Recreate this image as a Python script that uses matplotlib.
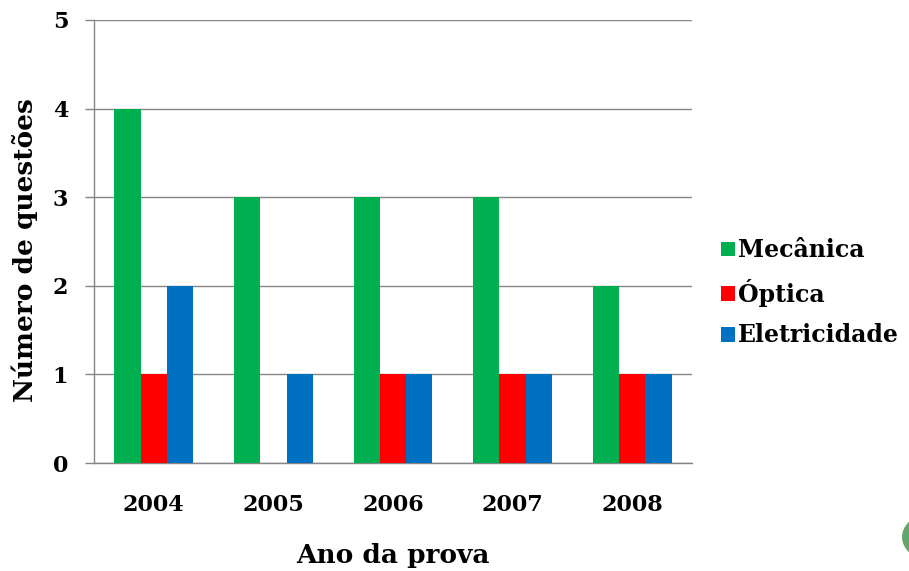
import matplotlib
matplotlib.use("Agg")
import matplotlib.pyplot as plt
from matplotlib.patches import Circle
import numpy as np

# questões por área em cada ano
anos = ["2004", "2005", "2006", "2007", "2008"]
mecanica = [4, 3, 3, 3, 2]
optica = [1, 0, 1, 1, 1]
eletricidade = [2, 1, 1, 1, 1]

series = [
    ("Mecânica", mecanica, "#00B050"),
    ("Óptica", optica, "#FF0000"),
    ("Eletricidade", eletricidade, "#0070C0"),
]

plt.rcParams["font.family"] = ["DejaVu Serif"]
plt.rcParams["font.weight"] = "bold"

fig = plt.figure(figsize=(9.09, 5.71), dpi=100)
ax = fig.add_axes([94 / 909, 108 / 571, 598 / 909, 443 / 571])

x = np.arange(len(anos))
width = 0.22
for i, (nome, valores, cor) in enumerate(series):
    ax.bar(x + (i - 1) * width, valores, width, color=cor, label=nome, zorder=3)

grid_color = "#868686"
ax.set_xlim(-0.5, len(anos) - 0.5)
ax.set_ylim(0, 5)
ax.set_yticks(range(6))
ax.yaxis.grid(True, color=grid_color, linewidth=1, zorder=0)
ax.set_axisbelow(True)
ax.set_xticks(x)
ax.set_xticklabels(anos)

for side in ["top", "right"]:
    ax.spines[side].set_visible(False)
for side in ["left", "bottom"]:
    ax.spines[side].set_color(grid_color)
    ax.spines[side].set_linewidth(1)

ax.tick_params(axis="y", length=6.5, width=1, color=grid_color, pad=12, labelsize=16)
ax.tick_params(axis="x", length=0, pad=22, labelsize=16)

ax.set_xlabel("Ano da prova", fontsize=19, fontweight="bold", labelpad=19.5)
ax.set_ylabel("Número de questões", fontsize=19, fontweight="bold", labelpad=11)
ax.yaxis.label.set_y(0.48)

fig.legend(loc="center left", bbox_to_anchor=(721 / 909, 0.487), frameon=False,
           fontsize=17, handlelength=0.59, handleheight=0.59, handletextpad=0.12,
           labelspacing=0.7, borderpad=0, borderaxespad=0)

# círculo verde no canto
fig.patches.append(Circle((948 / 909, 34 / 571), 46 / 909, transform=fig.transFigure,
                          facecolor="#67a56b", edgecolor="none"))

fig.savefig("out.png", dpi=100)
